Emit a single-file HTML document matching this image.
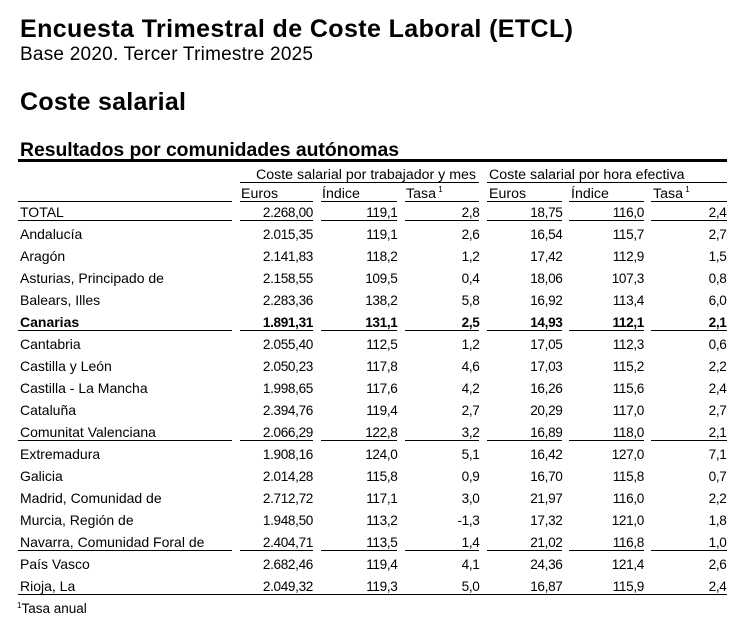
<!DOCTYPE html>
<html><head><meta charset="utf-8"><style>
html,body{margin:0;padding:0;background:#fff;}
svg{display:block;}
text{font-family:"Liberation Sans",Arial,sans-serif;fill:#000;}
.l{font-size:14px;}
.h{font-size:14.2px;}
.n{font-size:13.6px;letter-spacing:-0.35px;text-anchor:end;}
.b{font-weight:bold;}
</style></head><body>
<svg width="751" height="634" viewBox="0 0 751 634" xmlns="http://www.w3.org/2000/svg">
<rect width="751" height="634" fill="#fff"/>
<text x="20" y="37" font-size="25" font-weight="bold" textLength="553" lengthAdjust="spacing">Encuesta Trimestral de Coste Laboral (ETCL)</text>
<text x="20" y="60" font-size="19" textLength="293" lengthAdjust="spacing">Base 2020. Tercer Trimestre 2025</text>
<text x="20" y="110" font-size="25" font-weight="bold" textLength="166" lengthAdjust="spacing">Coste salarial</text>
<text x="20" y="156" font-size="19.4" font-weight="bold" textLength="379" lengthAdjust="spacing">Resultados por comunidades autónomas</text>
<rect x="18" y="159" width="709" height="3" fill="#000"/>

<text class="h" x="256" y="179">Coste salarial por trabajador y mes</text>
<text class="h" x="489" y="179">Coste salarial por hora efectiva</text>
<rect x="240" y="182" width="239" height="1" fill="#000"/>
<rect x="487" y="182" width="240" height="1" fill="#000"/>

<text class="h" x="241" y="198">Euros</text>
<text class="h" x="322" y="198">Índice</text>
<text class="h" x="406" y="198">Tasa<tspan font-size="8" dy="-6"> 1</tspan></text>
<text class="h" x="489" y="198">Euros</text>
<text class="h" x="571" y="198">Índice</text>
<text class="h" x="653" y="198">Tasa<tspan font-size="8" dy="-6"> 1</tspan></text>

<g fill="#000">
<g id="seg">
<rect x="18" y="201" width="214" height="1"/><rect x="240" y="201" width="73" height="1"/><rect x="321" y="201" width="76" height="1"/><rect x="405" y="201" width="74" height="1"/><rect x="487" y="201" width="75" height="1"/><rect x="569" y="201" width="75" height="1"/><rect x="651" y="201" width="76" height="1"/>
</g>
<use href="#seg" y="19"/>
<use href="#seg" y="129"/>
<use href="#seg" y="239"/>
<use href="#seg" y="349"/>
<rect x="18" y="594" width="709" height="1"/>
</g>

<g>
<text class="l" x="20" y="217">TOTAL</text>
<text class="n" x="313" y="217">2.268,00</text><text class="n" x="397.5" y="217">119,1</text><text class="n" x="479.5" y="217">2,8</text><text class="n" x="562.5" y="217">18,75</text><text class="n" x="644" y="217">116,0</text><text class="n" x="726.5" y="217">2,4</text>

<text class="l" x="20" y="239">Andalucía</text>
<text class="n" x="313" y="239">2.015,35</text><text class="n" x="397.5" y="239">119,1</text><text class="n" x="479.5" y="239">2,6</text><text class="n" x="562.5" y="239">16,54</text><text class="n" x="644" y="239">115,7</text><text class="n" x="726.5" y="239">2,7</text>

<text class="l" x="20" y="261">Aragón</text>
<text class="n" x="313" y="261">2.141,83</text><text class="n" x="397.5" y="261">118,2</text><text class="n" x="479.5" y="261">1,2</text><text class="n" x="562.5" y="261">17,42</text><text class="n" x="644" y="261">112,9</text><text class="n" x="726.5" y="261">1,5</text>

<text class="l" x="20" y="283">Asturias, Principado de</text>
<text class="n" x="313" y="283">2.158,55</text><text class="n" x="397.5" y="283">109,5</text><text class="n" x="479.5" y="283">0,4</text><text class="n" x="562.5" y="283">18,06</text><text class="n" x="644" y="283">107,3</text><text class="n" x="726.5" y="283">0,8</text>

<text class="l" x="20" y="305">Balears, Illes</text>
<text class="n" x="313" y="305">2.283,36</text><text class="n" x="397.5" y="305">138,2</text><text class="n" x="479.5" y="305">5,8</text><text class="n" x="562.5" y="305">16,92</text><text class="n" x="644" y="305">113,4</text><text class="n" x="726.5" y="305">6,0</text>

<text class="l b" x="20" y="327">Canarias</text>
<text class="n b" x="313" y="327">1.891,31</text><text class="n b" x="397.5" y="327">131,1</text><text class="n b" x="479.5" y="327">2,5</text><text class="n b" x="562.5" y="327">14,93</text><text class="n b" x="644" y="327">112,1</text><text class="n b" x="726.5" y="327">2,1</text>

<text class="l" x="20" y="349">Cantabria</text>
<text class="n" x="313" y="349">2.055,40</text><text class="n" x="397.5" y="349">112,5</text><text class="n" x="479.5" y="349">1,2</text><text class="n" x="562.5" y="349">17,05</text><text class="n" x="644" y="349">112,3</text><text class="n" x="726.5" y="349">0,6</text>

<text class="l" x="20" y="371">Castilla y León</text>
<text class="n" x="313" y="371">2.050,23</text><text class="n" x="397.5" y="371">117,8</text><text class="n" x="479.5" y="371">4,6</text><text class="n" x="562.5" y="371">17,03</text><text class="n" x="644" y="371">115,2</text><text class="n" x="726.5" y="371">2,2</text>

<text class="l" x="20" y="393">Castilla - La Mancha</text>
<text class="n" x="313" y="393">1.998,65</text><text class="n" x="397.5" y="393">117,6</text><text class="n" x="479.5" y="393">4,2</text><text class="n" x="562.5" y="393">16,26</text><text class="n" x="644" y="393">115,6</text><text class="n" x="726.5" y="393">2,4</text>

<text class="l" x="20" y="415">Cataluña</text>
<text class="n" x="313" y="415">2.394,76</text><text class="n" x="397.5" y="415">119,4</text><text class="n" x="479.5" y="415">2,7</text><text class="n" x="562.5" y="415">20,29</text><text class="n" x="644" y="415">117,0</text><text class="n" x="726.5" y="415">2,7</text>

<text class="l" x="20" y="437">Comunitat Valenciana</text>
<text class="n" x="313" y="437">2.066,29</text><text class="n" x="397.5" y="437">122,8</text><text class="n" x="479.5" y="437">3,2</text><text class="n" x="562.5" y="437">16,89</text><text class="n" x="644" y="437">118,0</text><text class="n" x="726.5" y="437">2,1</text>

<text class="l" x="20" y="459">Extremadura</text>
<text class="n" x="313" y="459">1.908,16</text><text class="n" x="397.5" y="459">124,0</text><text class="n" x="479.5" y="459">5,1</text><text class="n" x="562.5" y="459">16,42</text><text class="n" x="644" y="459">127,0</text><text class="n" x="726.5" y="459">7,1</text>

<text class="l" x="20" y="481">Galicia</text>
<text class="n" x="313" y="481">2.014,28</text><text class="n" x="397.5" y="481">115,8</text><text class="n" x="479.5" y="481">0,9</text><text class="n" x="562.5" y="481">16,70</text><text class="n" x="644" y="481">115,8</text><text class="n" x="726.5" y="481">0,7</text>

<text class="l" x="20" y="503">Madrid, Comunidad de</text>
<text class="n" x="313" y="503">2.712,72</text><text class="n" x="397.5" y="503">117,1</text><text class="n" x="479.5" y="503">3,0</text><text class="n" x="562.5" y="503">21,97</text><text class="n" x="644" y="503">116,0</text><text class="n" x="726.5" y="503">2,2</text>

<text class="l" x="20" y="525">Murcia, Región de</text>
<text class="n" x="313" y="525">1.948,50</text><text class="n" x="397.5" y="525">113,2</text><text class="n" x="479.5" y="525">-1,3</text><text class="n" x="562.5" y="525">17,32</text><text class="n" x="644" y="525">121,0</text><text class="n" x="726.5" y="525">1,8</text>

<text class="l" x="20" y="547">Navarra, Comunidad Foral de</text>
<text class="n" x="313" y="547">2.404,71</text><text class="n" x="397.5" y="547">113,5</text><text class="n" x="479.5" y="547">1,4</text><text class="n" x="562.5" y="547">21,02</text><text class="n" x="644" y="547">116,8</text><text class="n" x="726.5" y="547">1,0</text>

<text class="l" x="20" y="569">País Vasco</text>
<text class="n" x="313" y="569">2.682,46</text><text class="n" x="397.5" y="569">119,4</text><text class="n" x="479.5" y="569">4,1</text><text class="n" x="562.5" y="569">24,36</text><text class="n" x="644" y="569">121,4</text><text class="n" x="726.5" y="569">2,6</text>

<text class="l" x="20" y="591">Rioja, La</text>
<text class="n" x="313" y="591">2.049,32</text><text class="n" x="397.5" y="591">119,3</text><text class="n" x="479.5" y="591">5,0</text><text class="n" x="562.5" y="591">16,87</text><text class="n" x="644" y="591">115,9</text><text class="n" x="726.5" y="591">2,4</text>
</g>

<text x="17" y="613" font-size="13.5"><tspan font-size="8" dy="-5">1</tspan><tspan dy="5">Tasa anual</tspan></text>
</svg>
</body></html>
